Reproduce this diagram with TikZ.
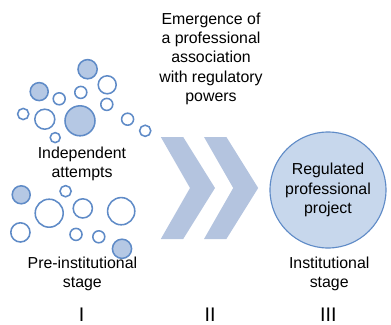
\documentclass[tikz,border=0pt]{standalone}
\usepackage{fontspec}
\setmainfont{Liberation Sans}

\definecolor{bubbleline}{HTML}{5F8BC7}
\definecolor{bubblefill}{HTML}{B5C8E4}
\definecolor{chevronfill}{HTML}{B4C4DF}
\definecolor{circlefill}{HTML}{C7D7EC}

\tikzset{
    bubble/.style={draw=bubbleline, line width=1.1pt},
    fullbubble/.style={draw=bubbleline, line width=1.1pt, fill=bubblefill},
    txt/.style={align=center, font=\fontsize{11.3}{13.7}\selectfont},
    numeral/.style={anchor=base, font=\fontsize{14}{16}\selectfont}
}

\begin{document}
\begin{tikzpicture}
    \useasboundingbox (0,0) rectangle (9.775,8.1);

    % Upper group of bubbles
    \draw[fullbubble] (2.19,6.37) circle (0.24);
    \draw[bubble] (2.68,5.98) circle (0.225);
    \draw[fullbubble] (0.98,5.81) circle (0.225);
    \draw[bubble] (1.48,5.63) circle (0.15);
    \draw[bubble] (2.02,5.79) circle (0.15);
    \draw[bubble] (2.67,5.49) circle (0.15);
    \draw[bubble] (0.58,5.25) circle (0.14);
    \draw[bubble] (1.12,5.12) circle (0.25);
    \draw[fullbubble] (2.0,5.08) circle (0.375);
    \draw[bubble] (1.38,4.66) circle (0.125);
    \draw[bubble] (3.19,5.12) circle (0.15);
    \draw[bubble] (3.63,4.83) circle (0.14);

    % Lower group of bubbles
    \draw[fullbubble] (0.53,3.23) circle (0.225);
    \draw[bubble] (1.64,3.32) circle (0.14);
    \draw[bubble] (1.23,2.77) circle (0.35);
    \draw[bubble] (2.07,2.89) circle (0.24);
    \draw[bubble] (3.03,2.82) circle (0.34);
    \draw[bubble] (0.51,2.29) circle (0.24);
    \draw[bubble] (1.9,2.24) circle (0.15);
    \draw[bubble] (2.47,2.18) circle (0.15);
    \draw[fullbubble] (3.05,1.88) circle (0.24);

    \node[txt] (attempts) at (2.05,4.0) {Independent\\attempts};

    % Chevrons
    \fill[chevronfill] (4.02,4.675) -- ++(0.56,0) -- ++(0.795,-1.275) -- ++(-0.795,-1.275)
        -- ++(-0.56,0) -- ++(0.73,1.275) -- cycle;
    \fill[chevronfill] (5.1,4.675) -- ++(0.56,0) -- ++(0.795,-1.275) -- ++(-0.795,-1.275)
        -- ++(-0.56,0) -- ++(0.73,1.275) -- cycle;

    \node[txt] (association) at (5.275,6.63)
        {Emergence of\\a professional\\association\\with regulatory\\powers};

    % Regulated project
    \node[circle, draw=bubbleline, thick, fill=circlefill, minimum size=2.9cm,
        txt] (project) at (8.2,3.35) {Regulated\\professional\\project};

    % Stages
    \node[txt] (prestage) at (2.06,1.26) {Pre-institutional\\stage};
    \node[txt] (instage) at (8.23,1.26) {Institutional\\stage};

    \node[numeral] (one) at (2.04,0.06) {I};
    \node[numeral] (two) at (5.25,0.06) {II};
    \node[numeral] (three) at (8.21,0.06) {III};

\end{tikzpicture}
\end{document}
